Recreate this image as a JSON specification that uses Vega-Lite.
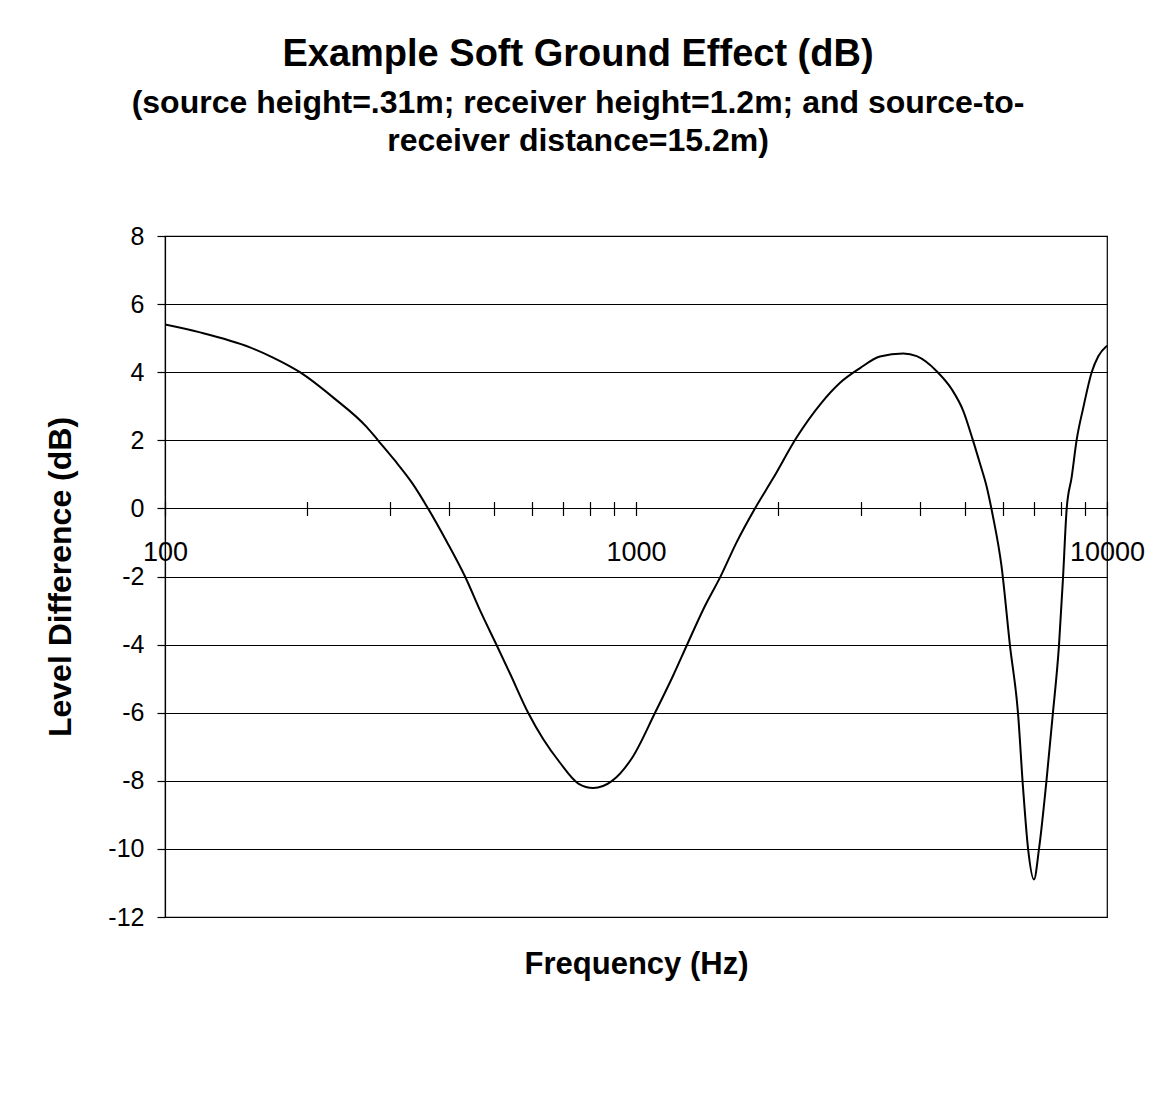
{
  "$schema": "https://vega.github.io/schema/vega-lite/v6.json",
  "width": 942,
  "height": 681,
  "autosize": {"type": "none"},
  "padding": {"left": 165, "top": 236, "right": 54, "bottom": 192},
  "background": "white",
  "config": {
    "font": "Liberation Sans",
    "view": {"stroke": "black", "strokeWidth": 1.2}
  },
  "title": {
    "text": "Example Soft Ground Effect (dB)",
    "subtitle": ["(source height=.31m; receiver height=1.2m; and source-to-", "receiver distance=15.2m)"],
    "font": "Liberation Sans",
    "fontSize": 38,
    "fontWeight": "bold",
    "color": "black",
    "subtitleFont": "Liberation Sans",
    "subtitleFontSize": 32,
    "subtitleFontWeight": "bold",
    "subtitleColor": "black",
    "subtitleLineHeight": 38,
    "subtitlePadding": 14,
    "anchor": "middle",
    "frame": "group",
    "dx": -58,
    "offset": 67
  },
  "data": {
    "values": [
      {"f": 100, "v": 5.40},
      {"f": 118.7, "v": 5.17},
      {"f": 151.5, "v": 4.73},
      {"f": 169.6, "v": 4.43},
      {"f": 193.4, "v": 4.00},
      {"f": 227.4, "v": 3.26},
      {"f": 268.5, "v": 2.38},
      {"f": 283.3, "v": 2.00},
      {"f": 307.9, "v": 1.40},
      {"f": 334.6, "v": 0.75},
      {"f": 361.8, "v": 0.00},
      {"f": 396.3, "v": -0.97},
      {"f": 433.5, "v": -2.00},
      {"f": 470.3, "v": -3.10},
      {"f": 506.1, "v": -4.02},
      {"f": 540.1, "v": -4.85},
      {"f": 590.6, "v": -6.01},
      {"f": 635.6, "v": -6.78},
      {"f": 689.7, "v": -7.47},
      {"f": 754.4, "v": -8.08},
      {"f": 811.7, "v": -8.21},
      {"f": 888.2, "v": -8.01},
      {"f": 986.9, "v": -7.27},
      {"f": 1097, "v": -6.01},
      {"f": 1200, "v": -4.90},
      {"f": 1285, "v": -3.99},
      {"f": 1390, "v": -2.96},
      {"f": 1513, "v": -1.99},
      {"f": 1636, "v": -0.99},
      {"f": 1789, "v": 0.00},
      {"f": 1956, "v": 0.89},
      {"f": 2194, "v": 2.09},
      {"f": 2459, "v": 3.05},
      {"f": 2712, "v": 3.69},
      {"f": 2990, "v": 4.12},
      {"f": 3296, "v": 4.46},
      {"f": 3694, "v": 4.55},
      {"f": 3945, "v": 4.47},
      {"f": 4349, "v": 4.03},
      {"f": 4681, "v": 3.50},
      {"f": 4954, "v": 2.86},
      {"f": 5187, "v": 2.02},
      {"f": 5376, "v": 1.31},
      {"f": 5555, "v": 0.63},
      {"f": 5710, "v": -0.15},
      {"f": 5970, "v": -1.69},
      {"f": 6223, "v": -4.03},
      {"f": 6471, "v": -6.00},
      {"f": 6633, "v": -8.20},
      {"f": 6799, "v": -10.00},
      {"f": 6998, "v": -10.90},
      {"f": 7172, "v": -10.00},
      {"f": 7438, "v": -8.00},
      {"f": 7678, "v": -6.00},
      {"f": 7907, "v": -4.03},
      {"f": 8065, "v": -2.04},
      {"f": 8212, "v": 0.00},
      {"f": 8414, "v": 0.92},
      {"f": 8623, "v": 2.02},
      {"f": 8906, "v": 2.96},
      {"f": 9279, "v": 4.00},
      {"f": 9583, "v": 4.47},
      {"f": 10000, "v": 4.78}
    ]
  },
  "mark": {"type": "line", "color": "black", "strokeWidth": 2, "interpolate": "monotone", "clip": true},
  "encoding": {
    "x": {
      "field": "f",
      "type": "quantitative",
      "scale": {"type": "log", "domain": [100, 10000], "nice": false},
      "axis": {
        "orient": "bottom",
        "offset": -415.5,
        "values": [100, 200, 300, 400, 500, 600, 700, 800, 900, 1000, 2000, 3000, 4000, 5000, 6000, 7000, 8000, 9000, 10000],
        "format": "d",
        "labelExpr": "(datum.value == 100 || datum.value == 1000 || datum.value == 10000) ? datum.label : ''",
        "labelOverlap": false,
        "labelFlush": false,
        "labelFontSize": 27,
        "labelColor": "black",
        "labelPadding": 24,
        "tickSize": 14,
        "tickColor": "black",
        "tickWidth": 1.2,
        "domain": false,
        "grid": false,
        "title": "Frequency (Hz)",
        "titleFontSize": 31,
        "titleFontWeight": "bold",
        "titleColor": "black",
        "titlePadding": 384
      }
    },
    "y": {
      "field": "v",
      "type": "quantitative",
      "scale": {"domain": [-12, 8], "nice": false},
      "axis": {
        "values": [-12, -10, -8, -6, -4, -2, 0, 2, 4, 6, 8],
        "labelExpr": "datum.value < 0 ? '-' + abs(datum.value) : '' + datum.value",
        "grid": true,
        "gridColor": "black",
        "gridWidth": 1.2,
        "gridOpacity": 1,
        "domainColor": "black",
        "domainWidth": 1.2,
        "tickColor": "black",
        "tickWidth": 1.2,
        "tickSize": 8,
        "labelFontSize": 25,
        "labelColor": "black",
        "labelPadding": 13,
        "title": "Level Difference (dB)",
        "titleFontSize": 32,
        "titleFontWeight": "bold",
        "titleColor": "black",
        "titlePadding": 30
      }
    }
  }
}
